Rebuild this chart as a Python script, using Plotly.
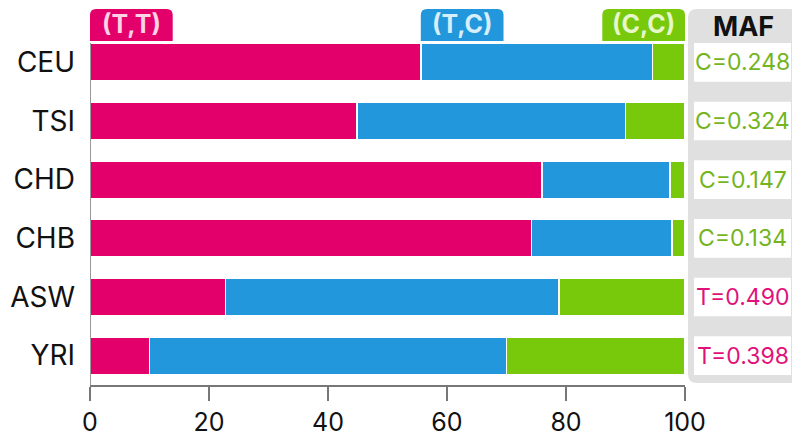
import plotly.graph_objects as go

# genotype frequencies (%) per population
populations = ["CEU", "TSI", "CHD", "CHB", "ASW", "YRI"]
tt = [55.6, 44.9, 76.0, 74.2, 22.8, 10.0]
tc = [38.9, 45.1, 21.5, 23.6, 56.0, 60.0]
cc = [5.5, 10.0, 2.5, 2.2, 21.2, 30.0]
maf = ["C=0.248", "C=0.324", "C=0.147", "C=0.134", "T=0.490", "T=0.398"]
x_ticks = [0, 20, 40, 60, 80, 100]

PINK = "#e4006a"
BLUE = "#2397db"
GREEN = "#78c80c"
FONT = "Inter"

ypos = list(range(len(populations)))

fig = go.Figure()
for name, vals, col in [("(T,T)", tt, PINK), ("(T,C)", tc, BLUE), ("(C,C)", cc, GREEN)]:
    fig.add_trace(go.Bar(
        y=ypos, x=vals, orientation="h", name=name,
        marker=dict(color=col, line=dict(color="white", width=1.5)),
        width=0.64, showlegend=False,
    ))

shapes = []
annotations = []

# screen pixel -> paper coords (plot area spans x 90..685, y 33..385)
px = lambda p: (p - 90) / 595.0
py = lambda p: (385 - p) / 352.0


def rounded(x0, x1, y0, y1, r, top_only=False):
    # y0 bottom, y1 top (paper coords)
    rx, ry = r / 595.0, r / 352.0
    if top_only:
        return (f"M{x0},{y0} L{x0},{y1 - ry} Q{x0},{y1} {x0 + rx},{y1} "
                f"L{x1 - rx},{y1} Q{x1},{y1} {x1},{y1 - ry} L{x1},{y0} Z")
    return (f"M{x0 + rx},{y0} L{x1 - rx},{y0} Q{x1},{y0} {x1},{y0 + ry} "
            f"L{x1},{y1 - ry} Q{x1},{y1} {x1 - rx},{y1} L{x0 + rx},{y1} "
            f"Q{x0},{y1} {x0},{y1 - ry} L{x0},{y0 + ry} Q{x0},{y0} {x0 + rx},{y0} Z")


# header tabs over the bars
tab_w = 13.9
tabs = [("(T,T)", 0, PINK, "#fbd3e4"),
        ("(T,C)", tt[0], BLUE, "#d8eefb"),
        ("(C,C)", 100 - tab_w, GREEN, "#e6f7c9")]
for label, x0, col, tcol in tabs:
    shapes.append(dict(type="path", xref="paper", yref="paper",
                       path=rounded(x0 / 100, (x0 + tab_w) / 100, py(41), py(9), 6, top_only=True),
                       fillcolor=col, line=dict(width=0), layer="above"))
    annotations.append(dict(x=(x0 + tab_w / 2) / 100, y=py(24.5), xref="paper", yref="paper",
                            xanchor="center", yanchor="middle",
                            text=f"<b>{label}</b>", showarrow=False,
                            font=dict(family=FONT, size=25, color=tcol)))

# y axis line
shapes.append(dict(type="line", xref="x", yref="y", x0=0, x1=0, y0=-0.33, y1=5.5,
                   line=dict(color="#777", width=1.5)))

# MAF panel
shapes.append(dict(type="path", xref="paper", yref="paper",
                   path=rounded(px(688), px(798), py(383), py(9), 9),
                   fillcolor="#e0e0e0", line=dict(width=0), layer="below"))
annotations.append(dict(x=px(743), y=py(26), xref="paper", yref="paper",
                        xanchor="center", yanchor="middle",
                        text="<b>MAF</b>", showarrow=False,
                        font=dict(family=FONT, size=27, color="#111")))
for i, m in enumerate(maf):
    shapes.append(dict(type="rect", xref="paper", yref="y",
                       x0=px(694), x1=px(791), y0=i - 0.33, y1=i + 0.33,
                       fillcolor="white", line=dict(width=0), layer="below"))
    annotations.append(dict(x=px(742.5), y=i, xref="paper", yref="y",
                            xanchor="center", yanchor="middle",
                            text=m, showarrow=False,
                            font=dict(family=FONT, size=23,
                                      color="#74b41e" if m.startswith("C") else "#e0127a")))

# page body has an 8px margin, so the figure is offset by (8, 8) on screen
fig.update_layout(
    barmode="stack",
    width=800, height=438,
    margin=dict(l=82, r=123, t=25, b=61),
    paper_bgcolor="white", plot_bgcolor="white",
    shapes=shapes, annotations=annotations,
    xaxis=dict(range=[0, 100], tickvals=x_ticks, showgrid=False, zeroline=False,
               automargin=False,
               showline=True, linecolor="#777", linewidth=1.5,
               ticks="outside", ticklen=14, tickwidth=2, tickcolor="#777",
               tickfont=dict(family=FONT, size=25, color="#111")),
    yaxis=dict(range=[5.5, -0.5], tickvals=ypos, ticktext=populations,
               showgrid=False, zeroline=False, showline=False, automargin=False,
               ticklabelstandoff=14,
               tickfont=dict(family=FONT, size=28, color="#111")),
)

fig.write_html("out.html")
